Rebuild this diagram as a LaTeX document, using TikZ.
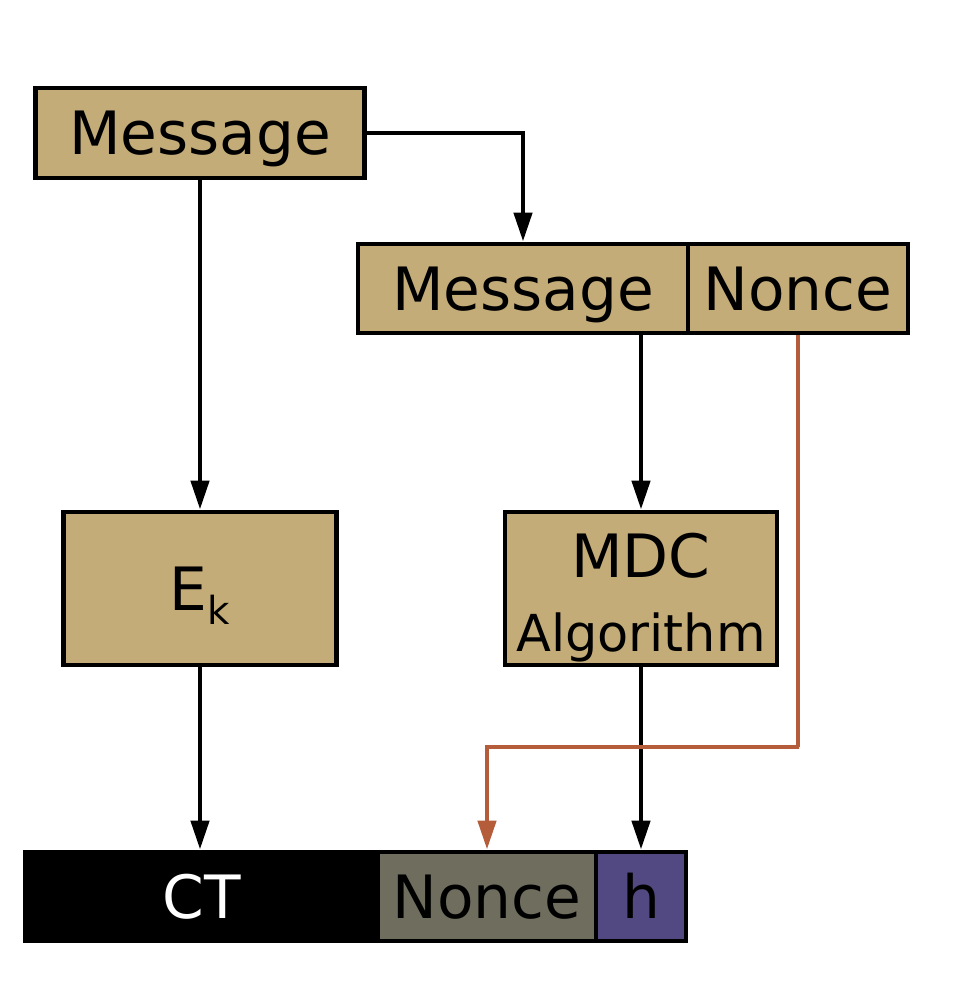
\documentclass[tikz,border=0pt]{standalone}
\usepackage{fontspec}
\setmainfont{DejaVu Sans}
\usepackage{xcolor}
\definecolor{tan}{RGB}{196, 172, 121}
\definecolor{noncegray}{RGB}{111, 109, 94}
\definecolor{hashpurple}{RGB}{82, 73, 131}
\definecolor{rust}{RGB}{181, 92, 58}
\usepackage{tikz}
\usetikzlibrary{arrows.meta, calc, positioning}
\newcommand{\boxtext}{\fontsize{17}{20}\selectfont}

\begin{document}
\begin{tikzpicture}[>={Triangle[width=0.18cm, length=0.29cm]},
  box/.style={draw, line width=1.4pt, fill=tan, inner sep=0pt, font=\boxtext,
    text height=12.4pt, text depth=0pt},
  link/.style={->, line width=1.3pt}]
  \useasboundingbox (0,0) rectangle (9.56,9.90);
  % top message
  \node[box, minimum width=3.29cm, minimum height=0.90cm] (msg) at (2.00,8.57) {Message};
  % message with nonce appended
  \node[box, minimum width=3.30cm, minimum height=0.89cm] (msgn) at (5.23,7.015) {Message};
  \node[box, minimum width=2.20cm, minimum height=0.89cm] (nonce) at (7.98,7.015) {Nonce};
  % encryption and hash
  \node[box, minimum width=2.73cm, minimum height=1.53cm] (ek) at (2.00,4.015)
    {E\raisebox{-0.14cm}{\fontsize{11}{13}\selectfont k}};
  \node[box, text height=, text depth=, minimum width=2.72cm, minimum height=1.53cm, align=center] (mdc) at (6.41,4.015)
    {\rule{0pt}{17.9pt}MDC\\[1pt]{\fontsize{14.5}{17}\selectfont Algorithm}};
  % output bar
  \node[box, fill=black, text=white, minimum width=3.53cm, minimum height=0.89cm] (ct) at (2.015,0.935) {CT};
  \node[box, fill=noncegray, minimum width=2.18cm, minimum height=0.89cm] (ctn) at (4.87,0.935) {Nonce};
  \node[box, fill=hashpurple, minimum width=0.90cm, minimum height=0.89cm] (h) at (6.41,0.935) {h};
  \coordinate (turn) at (7.99,2.43);
  % connectors
  \draw[link] (msg.south) -- (ek.north);
  \draw[link] (msg.east) -| (msgn.north);
  \draw[link] (mdc.north |- msgn.south) -- (mdc.north);
  \draw[link] (ek.south) -- (ek.south |- ct.north);
  \draw[link] (mdc.south) -- (h.north);
  \draw[link, color=rust] (nonce.south) |- (turn) -| (ctn.north);
\end{tikzpicture}
\end{document}
